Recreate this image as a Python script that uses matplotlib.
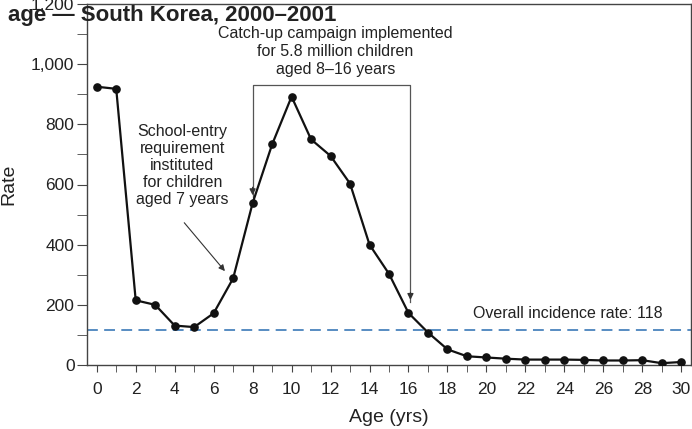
import numpy as np
import matplotlib.pyplot as plt
from matplotlib.ticker import FuncFormatter, MultipleLocator

plt.rcParams['font.family'] = ['Liberation Sans', 'DejaVu Sans']

# incidence rate by age (per 100,000)
ages  = list(range(0, 31))
rates = [925, 918, 215, 200, 131, 126, 172, 288, 538, 733, 892, 750, 695, 603, 400,
         303, 173, 108, 52, 29, 25, 21, 18, 18, 18, 17, 15, 15, 16, 6, 10]
overall_rate = 118

title_text   = 'age \u2014 South Korea, 2000\u20132001'
catchup_text = 'Catch-up campaign implemented\nfor 5.8 million children\naged 8\u201316 years'
school_text  = 'School-entry\nrequirement\ninstituted\nfor children\naged 7 years'
overall_text = f'Overall incidence rate: {overall_rate}'

fig = plt.figure(figsize=[6.92, 4.29], dpi=100)
ax = fig.add_axes([87/692, 1-365/429, 604/692, 361/429])

ax.axhline(overall_rate, color='#4a83bd', linestyle=(0, (6, 3.5)), linewidth=1.3, zorder=1)
ax.plot(ages, rates, 'o-', color='#111111', linewidth=1.6, markersize=5.2, zorder=3)

ax.set_xlim(-0.5, 30.5)
ax.set_ylim(0, 1200)
ax.xaxis.set_major_locator(MultipleLocator(2))
ax.xaxis.set_minor_locator(MultipleLocator(1))
ax.yaxis.set_major_locator(MultipleLocator(200))
ax.yaxis.set_minor_locator(MultipleLocator(100))
ax.yaxis.set_major_formatter(FuncFormatter(lambda v, p: f'{int(v):,}'))

for s in ax.spines.values():
    s.set_color('#444444')
    s.set_linewidth(1.0)
ax.tick_params(axis='both', which='both', colors='#444444', labelcolor='#222222', labelsize=12.5)
ax.tick_params(axis='y', which='both', length=7, pad=2)
ax.tick_params(axis='x', which='both', length=5, pad=7)

ax.set_xlabel('Age (yrs)', fontsize=14, color='#222222', labelpad=9)
ax.set_ylabel('Rate', fontsize=14, color='#222222', labelpad=10)

# annotations
ax.text(12.25, 1042, catchup_text, ha='center', va='center', fontsize=11.5,
        color='#222222', linespacing=1.28)
ax.plot([8, 8, 16.1, 16.1], [560, 932, 932, 210], color='#555555', linewidth=0.9, zorder=2)
ax.annotate('', xy=(8, 555), xytext=(8, 600),
            arrowprops=dict(arrowstyle='-|>', color='#333333', lw=0.9, mutation_scale=9))
ax.annotate('', xy=(16.1, 207), xytext=(16.1, 250),
            arrowprops=dict(arrowstyle='-|>', color='#333333', lw=0.9, mutation_scale=9))

ax.text(4.4, 663, school_text, ha='center', va='center', fontsize=11.5,
        color='#222222', linespacing=1.18)
ax.annotate('', xy=(6.67, 305), xytext=(4.4, 480),
            arrowprops=dict(arrowstyle='-|>', color='#333333', lw=0.8, mutation_scale=9))

ax.text(19.3, 172, overall_text, ha='left', va='center', fontsize=11.5, color='#222222')

# title (its left part lies outside the picture in the source)
fig.text(8/692, 1-16/429, title_text, ha='left', va='center', fontsize=16,
         fontweight='bold', color='#222222', zorder=10)

fig.savefig('out.png', dpi=100)
